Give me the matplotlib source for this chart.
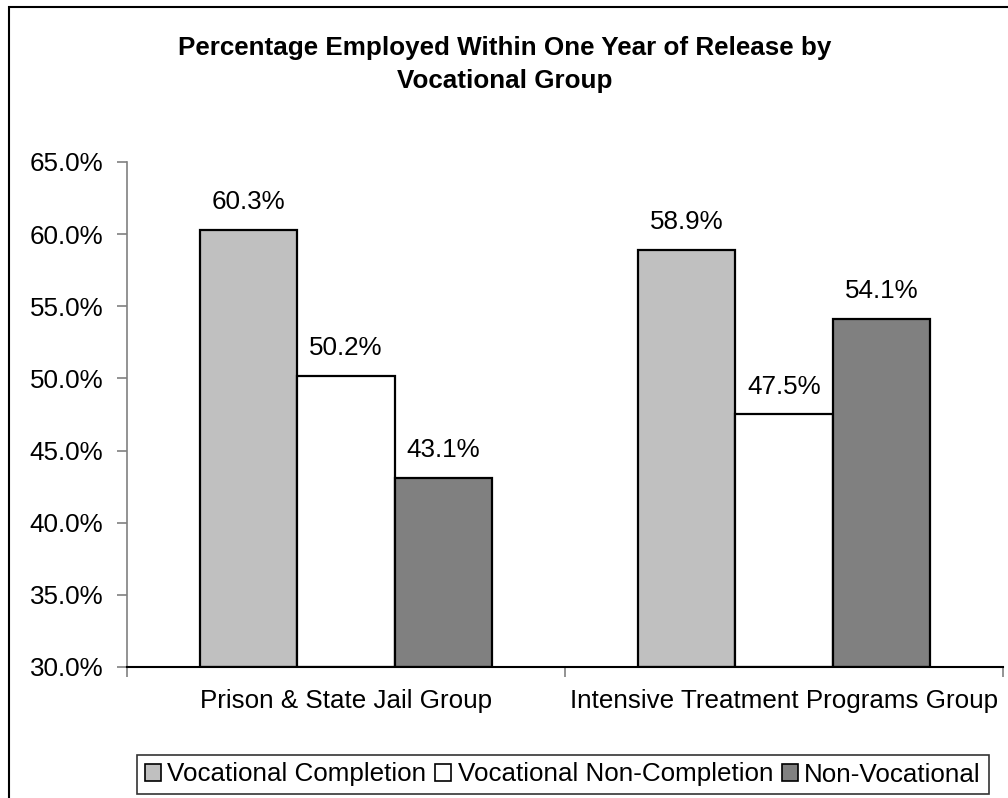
import numpy as np
import matplotlib.pyplot as plt
from matplotlib.patches import Patch, Rectangle

plt.rcParams['font.family'] = ['Liberation Sans', 'DejaVu Sans']

groups = ['Prison & State Jail Group', 'Intensive Treatment Programs Group']
series = ['Vocational Completion', 'Vocational Non-Completion', 'Non-Vocational']
values = [
    [60.3, 58.9],   # Vocational Completion
    [50.2, 47.5],   # Vocational Non-Completion
    [43.1, 54.1],   # Non-Vocational
]
colors = ['#C0C0C0', '#FFFFFF', '#808080']
yticks = [30, 35, 40, 45, 50, 55, 60, 65]

FS = 18.7
W, H = 1008, 798
fig = plt.figure(figsize=(W / 100, H / 100), dpi=100)

# outer chart border (runs off the right and bottom edges)
fig.add_artist(Rectangle((9 / W, -0.05), 1.2, 1 - 7 / H + 0.05,
                         transform=fig.transFigure, fill=False,
                         edgecolor='black', linewidth=1.5))

ax = fig.add_axes([127 / W, 1 - 667 / H, (1003 - 127) / W, (667 - 162) / H])

x = np.arange(len(groups))
width = 0.2225
for i, (vals, col) in enumerate(zip(values, colors)):
    pos = x + (i - 1) * width
    ax.bar(pos, np.array(vals) - 30, width, bottom=30, color=col,
           edgecolor='black', linewidth=1.6, zorder=3)
    for px, v in zip(pos, vals):
        ax.text(px, v + 1.1, '%.1f%%' % v, ha='center', va='bottom',
                fontsize=FS)

ax.set_xlim(-0.5, 1.5)
ax.set_ylim(30, 65)
ax.set_yticks(yticks)
ax.set_yticklabels(['%.1f%%' % t for t in yticks], fontsize=FS)
ax.tick_params(axis='y', length=7, width=1.2, color='#808080', pad=10)

# category boundaries carry the x ticks, labels sit at group centres
ax.set_xticks([-0.5, 0.5, 1.5])
ax.set_xticklabels([])
ax.tick_params(axis='x', length=7, width=1.2, color='#808080')
for xi, g in zip(x, groups):
    ax.text(xi, 30 - 1.5, g, ha='center', va='top', fontsize=FS,
            clip_on=False)

ax.spines['top'].set_visible(False)
ax.spines['right'].set_visible(False)
ax.spines['left'].set_color('#808080')
ax.spines['left'].set_linewidth(1.2)
ax.spines['bottom'].set_color('black')
ax.spines['bottom'].set_linewidth(1.5)
ax.spines['bottom'].set_zorder(4)

fig.text(505 / W, 1 - 64.5 / H,
         'Percentage Employed Within One Year of Release by\nVocational Group',
         ha='center', va='center', fontsize=FS, fontweight='bold',
         linespacing=1.5)

handles = [Patch(facecolor=c, edgecolor='black', linewidth=1.2) for c in colors]
leg = fig.legend(handles, series, loc='center', ncol=3,
                 bbox_to_anchor=(563 / W, 1 - 774.5 / H), fontsize=FS,
                 frameon=True, fancybox=False, edgecolor='black',
                 handlelength=0.6, handleheight=0.6, handletextpad=0.25,
                 columnspacing=0.35, borderpad=0.3, borderaxespad=0)
leg.get_frame().set_linewidth(1.2)

fig.savefig('out.png', dpi=100)
